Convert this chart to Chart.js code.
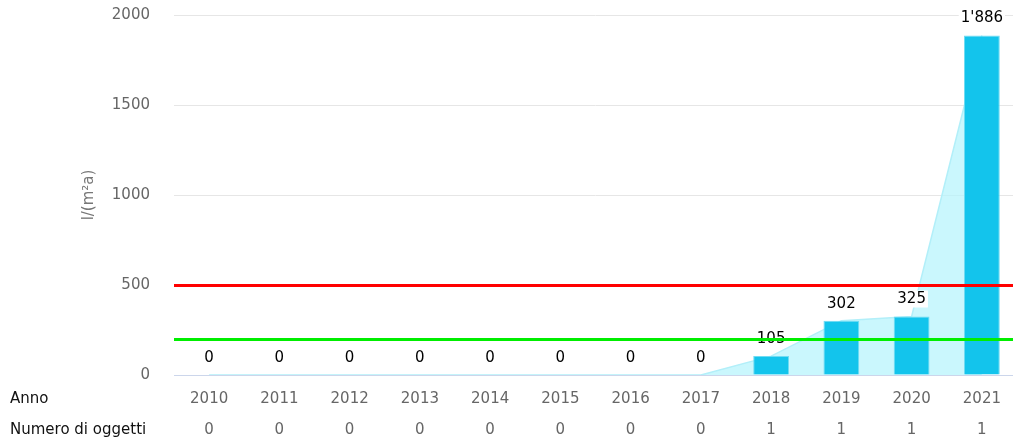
<!DOCTYPE html>
<html>
<head>
<meta charset="utf-8">
<script src="https://cdn.jsdelivr.net/npm/chart.js@4.4.1/dist/chart.umd.min.js"></script>
<style>
  html, body { margin: 0; padding: 0; background: #fff; overflow: hidden; width: 1013px; height: 445px; }
  #wrap { width: 1017px; height: 445px; position: relative; }
</style>
</head>
<body>
<div id="wrap"><canvas id="c"></canvas></div>
<script>
const years = ['2010','2011','2012','2013','2014','2015','2016','2017','2018','2019','2020','2021'];
const values = [0, 0, 0, 0, 0, 0, 0, 0, 105, 302, 325, 1886];
const objectCounts = [0, 0, 0, 0, 0, 0, 0, 0, 1, 1, 1, 1];
const thresholds = [500, 200];
const thresholdColors = ['#ff0000', '#00ee00'];
const yTicks = [0, 500, 1000, 1500, 2000];
const rowLabels = ['Anno', 'Numero di oggetti'];
const yTitle = 'l/(m²a)';

const FONT = '"DejaVu Sans", Verdana, sans-serif';

function fmt(v) {
  return String(v).replace(/\B(?=(\d{3})+(?!\d))/g, "'");
}

const labelsPlugin = {
  id: 'labelsPlugin',
  afterDatasetsDraw(chart) {
    const ctx = chart.ctx;
    const meta = chart.getDatasetMeta(0);
    ctx.save();
    ctx.font = '15px ' + FONT;
    ctx.textAlign = 'center';
    ctx.textBaseline = 'middle';
    meta.data.forEach((bar, i) => {
      const t = fmt(values[i]);
      const w = ctx.measureText(t).width;
      const cy = bar.y - 17;
      ctx.fillStyle = '#ffffff';
      ctx.fillRect(bar.x - w / 2 - 2, cy - 9, w + 4, 17);
      ctx.fillStyle = '#000000';
      ctx.fillText(t, bar.x, cy);
    });
    ctx.restore();
  },
  afterDraw(chart) {
    const ctx = chart.ctx;
    const y = chart.scales.y;
    const x = chart.scales.x;
    const area = chart.chartArea;
    ctx.save();
    thresholds.forEach((t, i) => {
      const py = Math.round(y.getPixelForValue(t)) + 0.5;
      ctx.strokeStyle = thresholdColors[i];
      ctx.lineWidth = 3;
      ctx.beginPath();
      ctx.moveTo(area.left, py);
      ctx.lineTo(area.right, py);
      ctx.stroke();
    });
    ctx.font = '15px ' + FONT;
    ctx.fillStyle = '#111111';
    ctx.textAlign = 'left';
    ctx.textBaseline = 'middle';
    rowLabels.forEach((l, i) => {
      ctx.fillText(l, 10, x.top + 9 + 15.5 + i * 31);
    });
    ctx.restore();
  }
};

function zeroPad(s) {
  s.paddingTop = 0; s.paddingBottom = 0; s.paddingLeft = 0; s.paddingRight = 0;
}

new Chart(document.getElementById('c'), {
  data: {
    labels: years.map((y, i) => [y, String(objectCounts[i])]),
    datasets: [
      {
        type: 'bar',
        data: values,
        backgroundColor: '#13c4ec',
        borderColor: '#6fdcf3',
        borderWidth: 1,
        categoryPercentage: 1,
        barPercentage: 0.51,
        order: 0
      },
      {
        type: 'line',
        data: values,
        borderColor: '#b2eff9',
        borderWidth: 1.5,
        backgroundColor: 'rgba(180, 244, 252, 0.7)',
        fill: 'origin',
        tension: 0,
        pointRadius: 0,
        order: 1
      }
    ]
  },
  options: {
    responsive: true,
    maintainAspectRatio: false,
    animation: false,
    layout: { autoPadding: false, padding: { top: 15, left: 0, right: 0, bottom: 0 } },
    plugins: { legend: { display: false }, tooltip: { enabled: false } },
    scales: {
      x: {
        afterFit(s) { s.height = 70; zeroPad(s); },
        grid: { display: false, drawTicks: false },
        border: { display: true, color: '#ccd6eb', width: 1 },
        ticks: {
          color: '#666666',
          font: { family: FONT, size: 15, lineHeight: '31px' },
          padding: 9,
          maxRotation: 0,
          autoSkip: false
        }
      },
      y: {
        min: 0,
        max: 2000,
        afterBuildTicks(s) { s.ticks = yTicks.map(v => ({ value: v })); },
        afterFit(s) { s.width = 174; zeroPad(s); },
        grid: { color: '#e6e6e6', drawTicks: false, lineWidth: 1 },
        border: { display: false },
        ticks: {
          color: '#666666',
          font: { family: FONT, size: 15 },
          padding: 24,
          callback: (v) => String(v)
        },
        title: {
          display: true,
          text: yTitle,
          color: '#777777',
          font: { family: FONT, size: 15, lineHeight: 1.2 },
          padding: { top: 80, bottom: 20 }
        }
      }
    }
  },
  plugins: [labelsPlugin]
});
</script>
</body>
</html>
